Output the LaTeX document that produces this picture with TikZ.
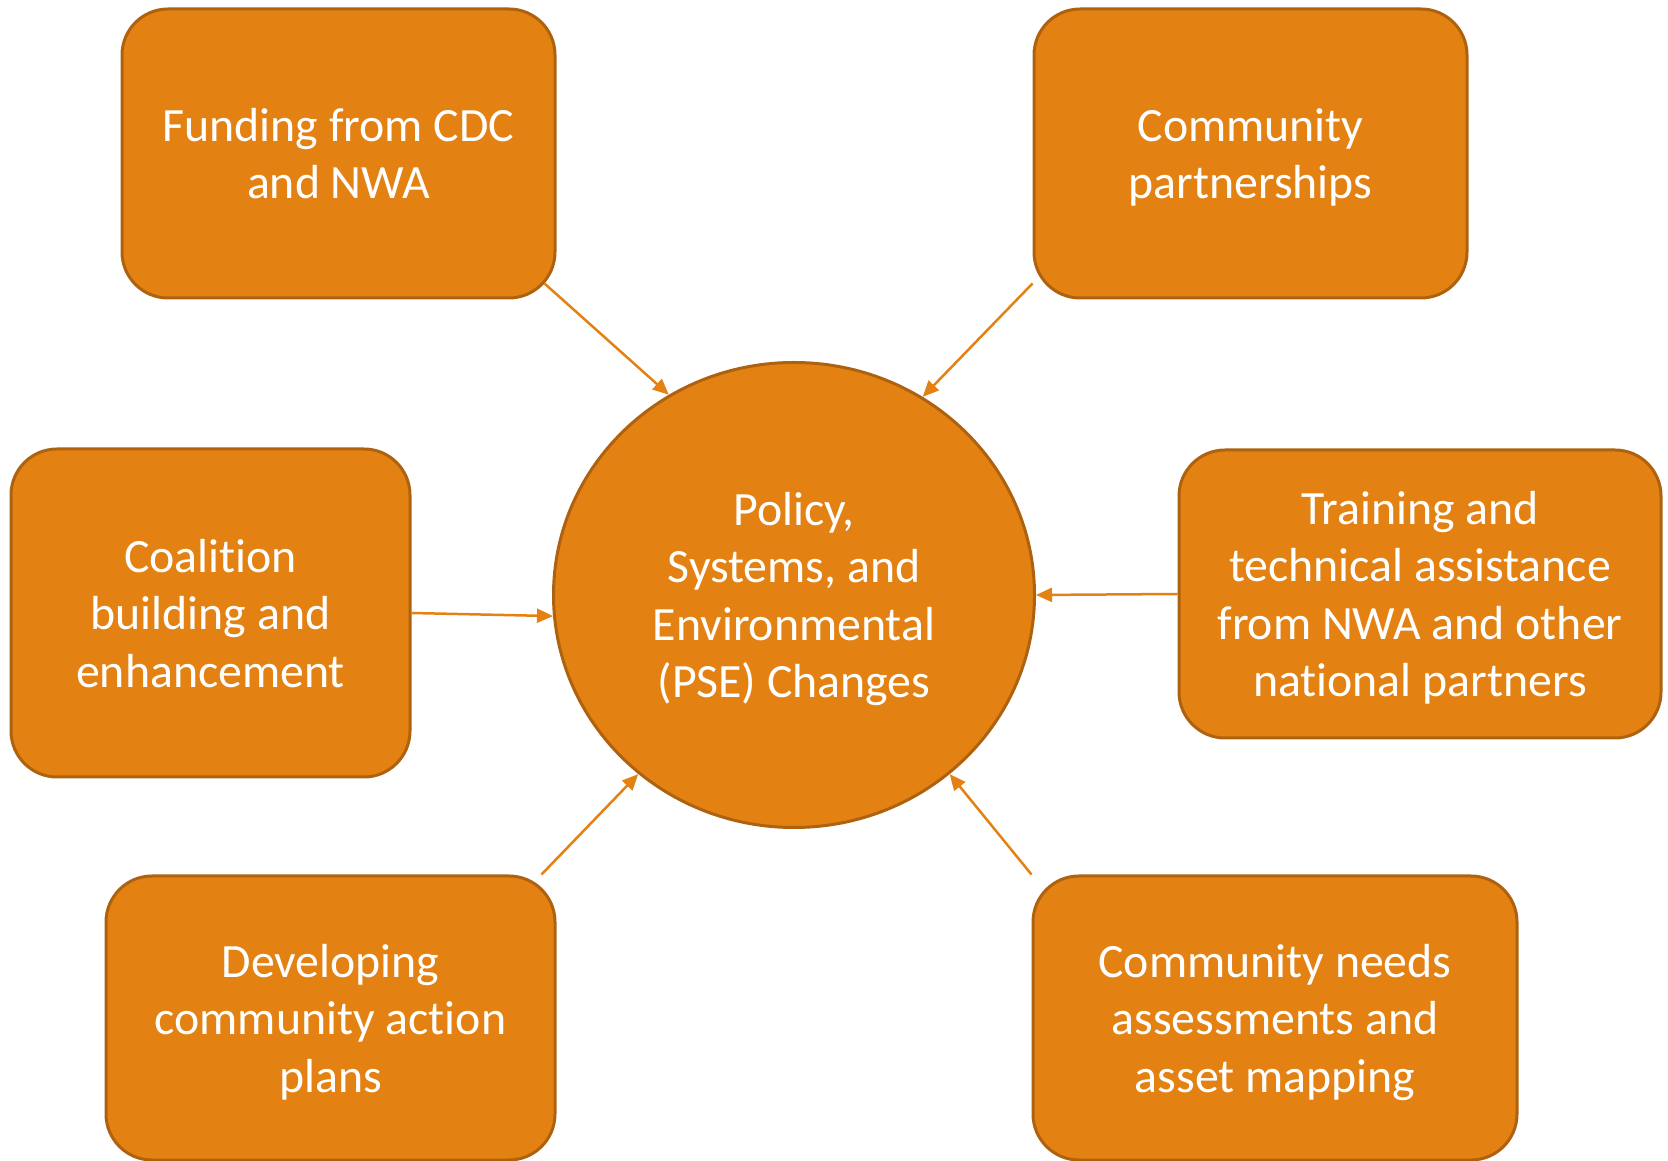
\documentclass[tikz,border=0pt]{standalone}
\usepackage{fontspec}
\setmainfont{Carlito}[Ligatures=NoCommon]
\usetikzlibrary{arrows.meta,shapes.geometric,calc}
\definecolor{boxfill}{HTML}{E38213}
\definecolor{boxline}{HTML}{AE620F}
\definecolor{arrowc}{HTML}{E38213}
\tikzset{
  box/.style={rectangle, rounded corners=46pt, fill=boxfill, draw=boxline, line width=3pt,
    text=white, align=center, inner sep=0pt, text depth=0pt,
    font=\fontsize{47.8}{57.5}\selectfont},
  hub/.style={ellipse, fill=boxfill, draw=boxline, line width=3pt, text=white, align=center,
    inner sep=0pt, text depth=0pt, minimum width=481pt, minimum height=465pt,
    font=\fontsize{47.8}{57.5}\selectfont},
  link/.style={draw=arrowc, line width=2.5pt, -{Triangle[length=16pt,width=14pt]}}
}
\begin{document}
\begin{tikzpicture}[x=1pt,y=1pt]
\useasboundingbox (0,0) rectangle (1668,1160);
\node[hub] (c) at (794,565) {Policy,\\Systems, and\\Environmental\\(PSE) Changes};
\node[box, minimum width=433pt, minimum height=289pt] (f) at (338.5,1006.5) {Funding from CDC\\and NWA};
\node[box, minimum width=433pt, minimum height=289pt] (p) at (1250.5,1006.5) {Community\\partnerships};
\node[box, minimum width=399pt, minimum height=328pt] (co) at (210.5,547) {Coalition\\building and\\enhancement};
\node[box, minimum width=482pt, minimum height=288pt] (t) at (1420,566) {Training and\\technical assistance\\from NWA and other\\national partners};
\node[box, minimum width=449pt, minimum height=284pt] (d) at (330.5,142) {Developing\\community action\\plans};
\node[box, minimum width=484pt, minimum height=284pt] (n) at (1275,142) {Community needs\\assessments and\\asset mapping};
\draw[link] ($(f.south east)+(-12,16)$) -- (c.122);
\draw[link] ($(p.south west)+(0,16)$) -- (c.57);
\draw[link] (co.east) -- (c.185);
\draw[link] (t.west) -- (c.east);
\draw[link] ($(d.north east)+(-15,0)$) -- (c.229);
\draw[link] (n.north west) -- (c.311.5);
\end{tikzpicture}
\end{document}
